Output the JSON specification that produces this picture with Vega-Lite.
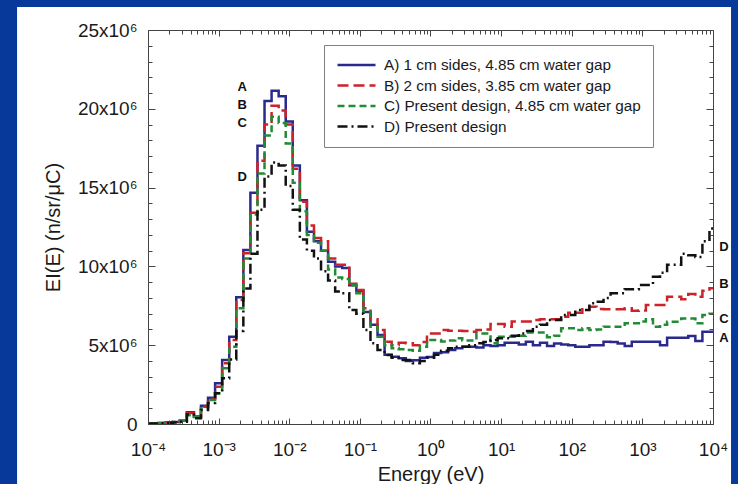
{
  "$schema": "https://vega.github.io/schema/vega-lite/v6.json",
  "width": 565,
  "height": 394,
  "autosize": {"type": "none"},
  "padding": {"left": 148, "top": 30, "right": 25, "bottom": 60},
  "background": "#06399a",
  "config": {"font": "Liberation Sans", "view": {"stroke": null}, "axis": {"grid": false}},
  "resolve": {"axis": {"x": "independent", "y": "independent"}},
  "datasets": {
    "spectra": [
      {"E": 0.0001, "A": 0.03, "B": 0.03, "C": 0.03, "D": 0.02},
      {"E": 0.0001122, "A": 0.05, "B": 0.05, "C": 0.05, "D": 0.03},
      {"E": 0.0001413, "A": 0.07, "B": 0.07, "C": 0.07, "D": 0.05},
      {"E": 0.0001778, "A": 0.1, "B": 0.1, "C": 0.1, "D": 0.08},
      {"E": 0.0002239, "A": 0.13, "B": 0.13, "C": 0.13, "D": 0.1},
      {"E": 0.0002818, "A": 0.2, "B": 0.2, "C": 0.2, "D": 0.15},
      {"E": 0.0003548, "A": 0.74, "B": 0.7, "C": 0.55, "D": 0.6},
      {"E": 0.0004467, "A": 0.47, "B": 0.45, "C": 0.45, "D": 0.36},
      {"E": 0.0005623, "A": 1.16, "B": 1.1, "C": 1.0, "D": 0.89},
      {"E": 0.0007079, "A": 1.67, "B": 1.6, "C": 1.52, "D": 1.33},
      {"E": 0.0008913, "A": 2.58, "B": 2.37, "C": 1.95, "D": 1.95},
      {"E": 0.001122, "A": 4.06, "B": 3.85, "C": 3.53, "D": 2.9},
      {"E": 0.001413, "A": 5.54, "B": 5.33, "C": 4.9, "D": 4.1},
      {"E": 0.001778, "A": 8.04, "B": 7.87, "C": 7.34, "D": 5.9},
      {"E": 0.002239, "A": 11.04, "B": 10.83, "C": 10.5, "D": 8.6},
      {"E": 0.002818, "A": 14.68, "B": 13.4, "C": 13.3, "D": 10.8},
      {"E": 0.003548, "A": 17.66, "B": 16.7, "C": 15.9, "D": 13.6},
      {"E": 0.004467, "A": 20.5, "B": 19.0, "C": 18.3, "D": 15.7},
      {"E": 0.005623, "A": 21.15, "B": 20.2, "C": 19.5, "D": 16.6},
      {"E": 0.007079, "A": 20.8, "B": 19.9, "C": 19.1, "D": 16.4},
      {"E": 0.008913, "A": 19.2, "B": 19.0, "C": 17.8, "D": 15.1},
      {"E": 0.01122, "A": 16.4, "B": 16.2, "C": 15.3, "D": 13.6},
      {"E": 0.01413, "A": 14.2, "B": 14.1, "C": 13.5, "D": 11.7},
      {"E": 0.01778, "A": 12.2, "B": 12.6, "C": 12.0, "D": 11.0},
      {"E": 0.02239, "A": 11.6, "B": 11.8, "C": 11.5, "D": 10.5},
      {"E": 0.02818, "A": 11.0, "B": 11.6, "C": 11.0, "D": 9.7},
      {"E": 0.03548, "A": 10.3, "B": 10.5, "C": 9.8, "D": 9.1},
      {"E": 0.04467, "A": 10.0, "B": 10.1, "C": 9.3, "D": 8.4},
      {"E": 0.05623, "A": 9.9, "B": 10.1, "C": 9.2, "D": 8.3},
      {"E": 0.07079, "A": 8.8, "B": 8.9, "C": 8.8, "D": 7.23},
      {"E": 0.08913, "A": 8.45, "B": 8.5, "C": 8.3, "D": 7.0},
      {"E": 0.1122, "A": 7.1, "B": 7.34, "C": 7.13, "D": 5.96},
      {"E": 0.1413, "A": 6.3, "B": 6.64, "C": 6.17, "D": 5.12},
      {"E": 0.1778, "A": 5.65, "B": 5.96, "C": 5.54, "D": 4.7},
      {"E": 0.2239, "A": 4.4, "B": 5.22, "C": 5.0, "D": 4.38},
      {"E": 0.2818, "A": 4.27, "B": 5.0, "C": 4.8, "D": 4.2},
      {"E": 0.3548, "A": 4.17, "B": 5.16, "C": 4.75, "D": 4.06},
      {"E": 0.4467, "A": 4.0, "B": 5.12, "C": 4.7, "D": 4.06},
      {"E": 0.5623, "A": 4.05, "B": 5.0, "C": 4.65, "D": 3.85},
      {"E": 0.7079, "A": 4.2, "B": 5.2, "C": 4.9, "D": 4.0},
      {"E": 0.8913, "A": 4.25, "B": 5.75, "C": 5.33, "D": 4.2},
      {"E": 1.122, "A": 4.5, "B": 5.75, "C": 5.33, "D": 4.4},
      {"E": 1.413, "A": 4.55, "B": 5.96, "C": 5.24, "D": 4.65},
      {"E": 1.778, "A": 4.7, "B": 5.92, "C": 5.3, "D": 4.8},
      {"E": 2.239, "A": 4.8, "B": 5.92, "C": 5.44, "D": 4.9},
      {"E": 2.818, "A": 4.9, "B": 5.9, "C": 5.3, "D": 4.9},
      {"E": 3.548, "A": 4.9, "B": 5.85, "C": 5.3, "D": 5.0},
      {"E": 4.467, "A": 4.85, "B": 5.96, "C": 5.75, "D": 5.12},
      {"E": 5.623, "A": 5.0, "B": 6.0, "C": 5.75, "D": 5.2},
      {"E": 7.079, "A": 4.95, "B": 6.35, "C": 5.12, "D": 5.33},
      {"E": 8.913, "A": 5.0, "B": 6.35, "C": 5.54, "D": 5.44},
      {"E": 11.22, "A": 5.16, "B": 6.17, "C": 5.54, "D": 5.44},
      {"E": 14.13, "A": 5.16, "B": 6.5, "C": 5.54, "D": 5.6},
      {"E": 17.78, "A": 5.05, "B": 6.5, "C": 5.6, "D": 5.75},
      {"E": 22.39, "A": 5.22, "B": 6.5, "C": 5.8, "D": 5.9},
      {"E": 28.18, "A": 5.0, "B": 6.6, "C": 5.8, "D": 6.17},
      {"E": 35.48, "A": 5.15, "B": 6.64, "C": 5.8, "D": 6.3},
      {"E": 44.67, "A": 4.95, "B": 6.64, "C": 5.5, "D": 6.6},
      {"E": 56.23, "A": 5.1, "B": 6.64, "C": 5.6, "D": 6.6},
      {"E": 70.79, "A": 5.05, "B": 6.8, "C": 6.07, "D": 6.92},
      {"E": 89.13, "A": 5.0, "B": 7.06, "C": 6.07, "D": 6.92},
      {"E": 112.2, "A": 4.9, "B": 7.06, "C": 5.96, "D": 7.23},
      {"E": 141.3, "A": 4.9, "B": 7.28, "C": 6.07, "D": 7.23},
      {"E": 177.8, "A": 5.0, "B": 7.44, "C": 5.96, "D": 7.66},
      {"E": 223.9, "A": 5.0, "B": 7.3, "C": 6.0, "D": 7.76},
      {"E": 281.8, "A": 5.22, "B": 7.28, "C": 6.17, "D": 8.0},
      {"E": 354.8, "A": 5.2, "B": 7.28, "C": 6.17, "D": 8.3},
      {"E": 446.7, "A": 5.1, "B": 7.28, "C": 6.17, "D": 8.3},
      {"E": 562.3, "A": 4.95, "B": 7.34, "C": 6.39, "D": 8.55},
      {"E": 707.9, "A": 5.22, "B": 7.19, "C": 6.39, "D": 8.55},
      {"E": 891.3, "A": 5.22, "B": 7.2, "C": 6.5, "D": 8.82},
      {"E": 1122, "A": 5.22, "B": 7.55, "C": 6.64, "D": 8.82},
      {"E": 1413, "A": 5.22, "B": 7.55, "C": 6.17, "D": 9.35},
      {"E": 1778, "A": 5.0, "B": 7.55, "C": 6.3, "D": 9.6},
      {"E": 2239, "A": 5.48, "B": 8.08, "C": 6.49, "D": 10.1},
      {"E": 2818, "A": 5.48, "B": 8.08, "C": 6.49, "D": 10.1},
      {"E": 3548, "A": 5.48, "B": 7.91, "C": 6.7, "D": 10.8},
      {"E": 4467, "A": 5.58, "B": 8.25, "C": 6.7, "D": 10.7},
      {"E": 5623, "A": 5.27, "B": 8.08, "C": 6.39, "D": 10.6},
      {"E": 7079, "A": 5.86, "B": 8.45, "C": 6.92, "D": 11.6},
      {"E": 8913, "A": 5.86, "B": 8.61, "C": 7.0, "D": 12.4},
      {"E": 10000, "A": 5.86, "B": 8.61, "C": 7.0, "D": 12.4}
    ],
    "peakNotes": [
      {"E": 0.00216, "v": 21.36, "t": "A"},
      {"E": 0.00216, "v": 20.24, "t": "B"},
      {"E": 0.00216, "v": 19.08, "t": "C"},
      {"E": 0.00216, "v": 15.69, "t": "D"}
    ],
    "endNotes": [
      {"E": 14300, "v": 11.23, "t": "D"},
      {"E": 14300, "v": 8.9, "t": "B"},
      {"E": 14300, "v": 6.64, "t": "C"},
      {"E": 14300, "v": 5.46, "t": "A"}
    ]
  },
  "layer": [
    {
      "data": {"values": [{}]},
      "mark": {"type": "rect", "fill": "white"},
      "encoding": {
        "x": {"datum": 0.0000014, "type": "quantitative", "axis": null},
        "x2": {"datum": 18000},
        "y": {"datum": 26.46, "type": "quantitative", "axis": null},
        "y2": {"datum": -4}
      }
    },
    {
      "data": {"name": "spectra"},
      "transform": [{"fold": ["A", "B", "C", "D"], "as": ["s", "v"]}],
      "mark": {"type": "line", "interpolate": "step-after", "strokeWidth": 2.5},
      "encoding": {
        "x": {
          "field": "E", "type": "quantitative",
          "scale": {"type": "log", "domain": [0.0001, 10000], "nice": false},
          "axis": {
            "orient": "bottom", "zindex": 1,
            "values": [0.0001, 0.001, 0.01, 0.1, 1, 10, 100, 1000, 10000],
            "labelExpr": "['10⁻⁴','10⁻³','10⁻²','10⁻¹','10⁰','10¹','10²','10³','10⁴'][round(log(datum.value)/LN10)+4]",
            "tickSize": -6, "labelPadding": 22, "labelFontSize": 19, "labelColor": "#1a1a1a",
            "labelFlush": false, "labelOverlap": false, "labelBound": false,
            "domain": true, "domainColor": "#444", "tickColor": "#444",
            "title": "Energy (eV)", "titleFontSize": 20, "titleFontWeight": "normal", "titleColor": "#1a1a1a", "titlePadding": 5
          }
        },
        "y": {
          "field": "v", "type": "quantitative",
          "scale": {"domain": [0, 25], "nice": false},
          "axis": {
            "orient": "left", "zindex": 1,
            "values": [0, 5, 10, 15, 20, 25],
            "labelExpr": "datum.value == 0 ? '0' : datum.value + 'x10⁶'",
            "tickSize": -7, "labelPadding": 18, "labelFontSize": 19, "labelColor": "#1a1a1a",
            "labelOverlap": false,
            "domain": true, "domainColor": "#444", "tickColor": "#444",
            "title": "EI(E) (n/sr/μC)", "titleFontSize": 20, "titleFontWeight": "normal", "titleColor": "#1a1a1a", "titlePadding": 14
          }
        },
        "color": {
          "field": "s", "type": "nominal",
          "scale": {"domain": ["A", "B", "C", "D"], "range": ["#2a298c", "#cc2229", "#238b35", "#111111"]},
          "legend": {
            "orient": "none", "legendX": 176, "legendY": 15, "title": null,
            "symbolType": "stroke", "symbolSize": 1444, "symbolStrokeWidth": 2.5, "clipHeight": 16, "rowPadding": 3.5,
            "labelFontSize": 15.3, "labelColor": "#1a1a1a", "labelOffset": 7, "labelLimit": 400, "padding": 12,
            "strokeColor": "#808080", "fillColor": "white",
            "labelExpr": "datum.label == 'A' ? 'A) 1 cm sides, 4.85 cm water gap' : datum.label == 'B' ? 'B) 2 cm sides, 3.85 cm water gap' : datum.label == 'C' ? 'C) Present design, 4.85 cm water gap' : 'D) Present design'"
          }
        },
        "strokeDash": {
          "field": "s", "type": "nominal",
          "scale": {"domain": ["A", "B", "C", "D"], "range": [[1, 0], [11, 5], [7, 4], [10, 4, 2, 4]]},
          "legend": {
            "orient": "none", "legendX": 176, "legendY": 15, "title": null,
            "symbolType": "stroke", "symbolSize": 1444, "symbolStrokeWidth": 2.5, "clipHeight": 16, "rowPadding": 3.5,
            "labelFontSize": 15.3, "labelColor": "#1a1a1a", "labelOffset": 7, "labelLimit": 400, "padding": 12,
            "strokeColor": "#808080", "fillColor": "white",
            "labelExpr": "datum.label == 'A' ? 'A) 1 cm sides, 4.85 cm water gap' : datum.label == 'B' ? 'B) 2 cm sides, 3.85 cm water gap' : datum.label == 'C' ? 'C) Present design, 4.85 cm water gap' : 'D) Present design'"
          }
        }
      }
    },
    {
      "data": {"name": "peakNotes"},
      "mark": {"type": "text", "fontWeight": "bold", "fontSize": 13, "color": "#111111", "align": "center", "baseline": "middle"},
      "encoding": {
        "x": {"field": "E", "type": "quantitative", "axis": {"orient": "top", "zindex": 1, "values": [0.0001, 0.001, 0.01, 0.1, 1, 10, 100, 1000, 10000], "tickSize": -6, "labels": false, "title": null, "domain": true, "domainColor": "#444", "tickColor": "#444"}},
        "y": {"field": "v", "type": "quantitative", "axis": {"orient": "right", "zindex": 1, "values": [0, 5, 10, 15, 20, 25], "tickSize": -7, "labels": false, "title": null, "domain": true, "domainColor": "#444", "tickColor": "#444"}},
        "text": {"field": "t"}
      }
    },
    {
      "data": {"name": "endNotes"},
      "mark": {"type": "text", "fontWeight": "bold", "fontSize": 13, "color": "#111111", "align": "center", "baseline": "middle"},
      "encoding": {
        "x": {"field": "E", "type": "quantitative", "axis": {"orient": "top", "zindex": 1, "values": [0.0002,0.0003,0.0004,0.0005,0.0006,0.0007,0.0008,0.0009,0.002,0.003,0.004,0.005,0.006,0.007,0.008,0.009,0.02,0.03,0.04,0.05,0.06,0.07,0.08,0.09,0.2,0.3,0.4,0.5,0.6,0.7,0.8,0.9,2,3,4,5,6,7,8,9,20,30,40,50,60,70,80,90,200,300,400,500,600,700,800,900,2000,3000,4000,5000,6000,7000,8000,9000], "tickSize": -4, "labels": false, "title": null, "domain": false, "tickColor": "#444"}},
        "y": {"field": "v", "type": "quantitative", "axis": {"orient": "right", "zindex": 1, "values": [1,2,3,4,6,7,8,9,11,12,13,14,16,17,18,19,21,22,23,24], "tickSize": -4, "labels": false, "title": null, "domain": false, "tickColor": "#444"}},
        "text": {"field": "t"}
      }
    },
    {
      "data": {"name": "endNotes"},
      "mark": {"type": "text", "opacity": 0},
      "encoding": {
        "x": {"field": "E", "type": "quantitative", "axis": {"orient": "bottom", "zindex": 1, "values": [0.0002,0.0003,0.0004,0.0005,0.0006,0.0007,0.0008,0.0009,0.002,0.003,0.004,0.005,0.006,0.007,0.008,0.009,0.02,0.03,0.04,0.05,0.06,0.07,0.08,0.09,0.2,0.3,0.4,0.5,0.6,0.7,0.8,0.9,2,3,4,5,6,7,8,9,20,30,40,50,60,70,80,90,200,300,400,500,600,700,800,900,2000,3000,4000,5000,6000,7000,8000,9000], "tickSize": -4, "labels": false, "title": null, "domain": false, "tickColor": "#444"}},
        "y": {"field": "v", "type": "quantitative", "axis": {"orient": "left", "zindex": 1, "values": [1,2,3,4,6,7,8,9,11,12,13,14,16,17,18,19,21,22,23,24], "tickSize": -4, "labels": false, "title": null, "domain": false, "tickColor": "#444"}},
        "text": {"field": "t"}
      }
    }
  ]
}
